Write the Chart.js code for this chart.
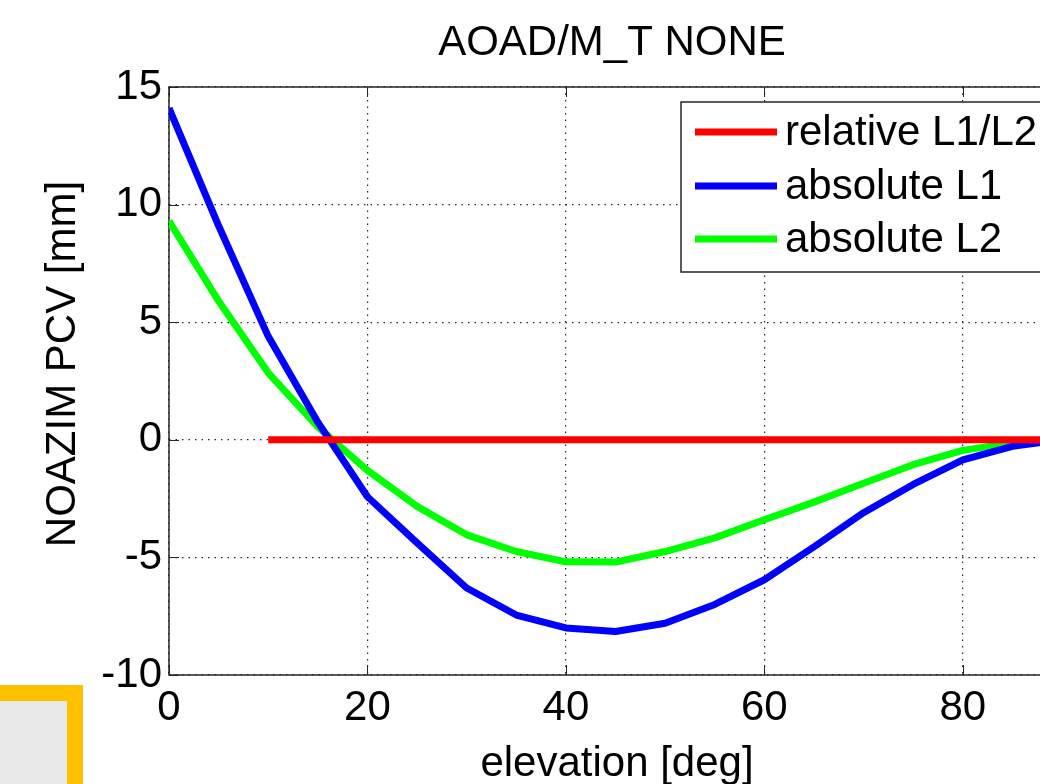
<!DOCTYPE html>
<html>
<head>
<meta charset="utf-8">
<title>AOAD/M_T NONE</title>
<script src="https://cdn.jsdelivr.net/npm/chart.js@4.4.1/dist/chart.umd.min.js"></script>
<style>
    html, body { margin: 0; padding: 0; background: #fff; overflow: hidden; }
    #wrap { position: relative; width: 1040px; height: 784px; overflow: hidden; }
    #pcvChart { position: absolute; left: 0; top: 0; }
    .frame {
        position: absolute; left: -30px; top: 685px; width: 113px; height: 140px;
        box-sizing: border-box; border: 16px solid #ffc000; background: #e8e8e8;
    }
</style>
</head>
<body>
<div id="wrap">
    <canvas id="pcvChart" width="1072" height="784"></canvas>
    <div class="frame"></div>
</div>
<script>
// elevation steps (deg)
const elevation = [0, 5, 10, 15, 20, 25, 30, 35, 40, 45, 50, 55, 60, 65, 70, 75, 80, 85, 90];
const relElevation = [10, 15, 20, 25, 30, 35, 40, 45, 50, 55, 60, 65, 70, 75, 80, 85, 90];

// PCV values (mm)
const relativeL1L2 = [0, 0, 0, 0, 0, 0, 0, 0, 0, 0, 0, 0, 0, 0, 0, 0, 0];
const absoluteL1 = [14.1, 9.1, 4.4, 0.75, -2.42, -4.38, -6.3, -7.45, -8.0, -8.15, -7.8, -7.0, -5.95, -4.55, -3.1, -1.9, -0.85, -0.28, 0];
const absoluteL2 = [9.3, 5.9, 2.85, 0.55, -1.3, -2.83, -4.04, -4.75, -5.19, -5.2, -4.75, -4.17, -3.4, -2.65, -1.85, -1.06, -0.45, -0.13, 0];

// tick labels
const xTicks = [0, 20, 40, 60, 80];
const yTicks = [-10, -5, 0, 5, 10, 15];

const FONT = "'Liberation Sans', Arial, Helvetica, sans-serif";

function toPoints(xs, ys) {
    return xs.map((x, i) => ({ x: x, y: ys[i] }));
}

// MATLAB-like box, inward ticks, legend and labels
const matlabAxes = {
    id: 'matlabAxes',
    beforeDatasetsDraw(chart) {
        const { ctx, chartArea: a, scales: { x, y } } = chart;
        ctx.save();
        ctx.strokeStyle = '#262626';
        ctx.lineWidth = 1.5;
        ctx.strokeRect(a.left, a.top, a.right - a.left, a.bottom - a.top);
        ctx.beginPath();
        xTicks.forEach(v => {
            const px = Math.round(x.getPixelForValue(v)) + 0.5;
            ctx.moveTo(px, a.bottom); ctx.lineTo(px, a.bottom - 10);
            ctx.moveTo(px, a.top); ctx.lineTo(px, a.top + 10);
        });
        yTicks.forEach(v => {
            const py = Math.round(y.getPixelForValue(v)) + 0.5;
            ctx.moveTo(a.left, py); ctx.lineTo(a.left + 10, py);
            ctx.moveTo(a.right, py); ctx.lineTo(a.right - 10, py);
        });
        ctx.lineWidth = 1;
        ctx.stroke();
        ctx.restore();
    },
    afterDraw(chart) {
        const { ctx } = chart;
        ctx.save();

        // legend box
        const box = { left: 681, top: 102, width: 380, height: 170 };
        ctx.fillStyle = '#fff';
        ctx.fillRect(box.left, box.top, box.width, box.height);
        ctx.strokeStyle = '#262626';
        ctx.lineWidth = 1.5;
        ctx.strokeRect(box.left, box.top, box.width, box.height);

        ctx.font = '42px ' + FONT;
        ctx.textBaseline = 'middle';
        ctx.textAlign = 'left';
        const rows = [132, 186, 239];
        chart.data.datasets.forEach((ds, i) => {
            ctx.strokeStyle = ds.borderColor;
            ctx.lineWidth = 7;
            ctx.beginPath();
            ctx.moveTo(695, rows[i]);
            ctx.lineTo(777, rows[i]);
            ctx.stroke();
            ctx.fillStyle = '#000';
            ctx.fillText(ds.label, 785, rows[i] + 1);
        });

        // title
        ctx.fillStyle = '#000';
        ctx.textBaseline = 'alphabetic';
        ctx.textAlign = 'center';
        ctx.fillText('AOAD/M_T NONE', 612, 55);

        // x label
        ctx.fillText('elevation [deg]', 617, 776);

        // y label
        ctx.translate(75, 364);
        ctx.rotate(-Math.PI / 2);
        ctx.fillText('NOAZIM PCV [mm]', 0, 0);
        ctx.restore();
    }
};

new Chart(document.getElementById('pcvChart'), {
    type: 'line',
    data: {
        datasets: [
            {
                label: 'relative L1/L2',
                data: toPoints(relElevation, relativeL1L2),
                borderColor: '#ff0000',
                borderWidth: 7
            },
            {
                label: 'absolute L1',
                data: toPoints(elevation, absoluteL1),
                borderColor: '#0000ff',
                borderWidth: 7
            },
            {
                label: 'absolute L2',
                data: toPoints(elevation, absoluteL2),
                borderColor: '#00ff00',
                borderWidth: 7
            }
        ]
    },
    options: {
        responsive: false,
        animation: false,
        events: [],
        devicePixelRatio: 1,
        layout: {
            padding: { top: 87, left: 0, right: 10, bottom: 0 }
        },
        elements: {
            point: { radius: 0 },
            line: { tension: 0, borderJoinStyle: 'round', borderCapStyle: 'butt' }
        },
        scales: {
            x: {
                type: 'linear',
                min: 0,
                max: 90,
                afterFit: scale => { scale.height = 109; },
                afterBuildTicks: scale => { scale.ticks = xTicks.map(v => ({ value: v })); },
                ticks: {
                    color: '#000',
                    padding: 8,
                    maxRotation: 0,
                    font: { family: FONT, size: 42, lineHeight: 1.2 }
                },
                grid: { color: '#262626', lineWidth: 1.2, drawTicks: false },
                border: { display: false, dash: [1.5, 5] }
            },
            y: {
                type: 'linear',
                min: -10,
                max: 15,
                afterFit: scale => { scale.width = 169; },
                afterBuildTicks: scale => { scale.ticks = yTicks.map(v => ({ value: v })); },
                ticks: {
                    color: '#000',
                    padding: 7,
                    font: { family: FONT, size: 42, lineHeight: 1.2 }
                },
                grid: { color: '#262626', lineWidth: 1.2, drawTicks: false },
                border: { display: false, dash: [1.5, 5] }
            }
        },
        plugins: {
            legend: { display: false },
            title: { display: false },
            tooltip: { enabled: false }
        }
    },
    plugins: [matlabAxes]
});
</script>
</body>
</html>
